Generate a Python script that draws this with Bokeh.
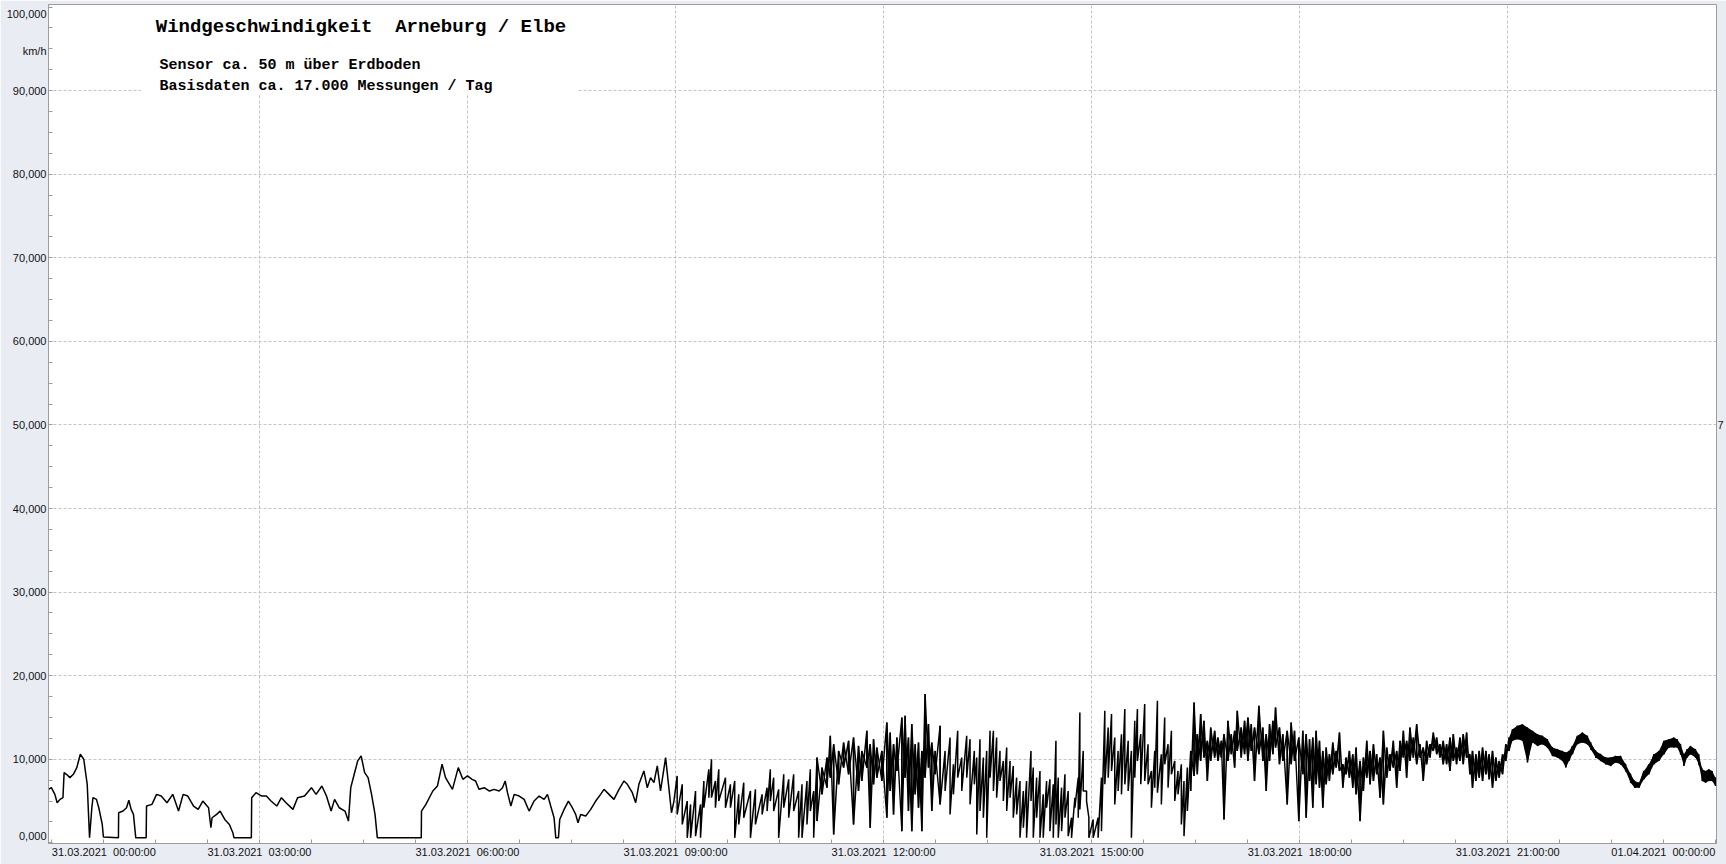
from bokeh.plotting import figure
from bokeh.models import (Range1d, FixedTicker, LinearAxis, Label, BoxAnnotation)
from bokeh.embed import file_html
from bokeh.resources import INLINE

# ---------------- data (minutes after 31.03.2021 00:00, km/h) ----------------
calm_min = [-2.5, 0, 3, 5, 7.5, 10, 11, 13, 16, 19, 22, 25, 28, 31, 32, 33, 35, 36, 39, 41,
            44, 45, 58, 58.2, 62, 65, 67, 69, 71, 73, 82, 82.3, 87, 91, 95, 100, 105, 110, 114,
            118, 123, 127, 131, 136, 138, 139, 143, 146, 150, 154, 157, 158, 173, 173.3, 177,
            182, 186, 190, 195, 199, 203, 209, 213, 219, 225, 229, 234, 238, 242, 245, 249, 254,
            257, 259, 262, 265, 268, 271, 274, 277, 280, 282, 320, 320.2, 324, 330, 334, 338,
            341, 347, 352, 356, 360, 364, 367, 370, 374.5, 379, 383, 387.4, 390.3, 392.6, 394.6,
            397.5, 400.4, 404.7, 409, 413.3, 417.6, 422, 426.3, 429.2, 432, 434.9, 436.4, 438.7,
            439.8, 443.6, 447.3, 450.7, 453.6, 455.6, 457.9, 462.3, 466.6, 470.9, 475.2, 478.1,
            482.4, 486.7, 491.1, 495.4, 498.3, 502.6, 505.5, 508.3, 512.6, 515.5, 518.4, 521.3,
            524.2, 527, 531.4, 534.2, 536.5, 538.6]
calm_kmh = [6.4, 6.6, 5.8, 4.8, 5.2, 5.4, 8.4, 8.2, 7.8, 8.2, 9.0, 10.6, 10.0, 7.0, 3.8, 0.6, 4.2, 5.4, 5.2, 4.2,
            2.2, 0.7, 0.6, 3.6, 3.8, 4.2, 5.1, 4.0, 3.4, 0.6, 0.6, 4.4, 4.6, 5.8, 5.6, 4.8, 5.8, 3.8, 5.8,
            5.6, 4.4, 4.0, 5.0, 4.2, 1.8, 3.0, 3.4, 3.8, 2.8, 2.2, 1.2, 0.6, 0.6, 5.4, 6.0,
            5.6, 5.6, 5.0, 4.4, 5.4, 4.8, 4.0, 5.4, 5.6, 6.6, 5.8, 6.8, 5.6, 3.8, 5.2, 4.2, 3.8,
            2.6, 6.6, 8.2, 9.8, 10.4, 8.4, 7.8, 5.8, 3.4, 0.6, 0.6, 3.8, 4.6, 6.2, 6.8, 9.4,
            7.8, 6.4, 9.0, 7.6, 8.0, 7.6, 7.4, 6.4, 6.6, 6.2, 6.4, 6.2, 6.6, 7.4, 6.0,
            4.4, 5.8, 5.6, 5.2, 3.8, 5.0, 5.6, 5.2, 5.8, 4.4, 3.0, 0.6, 0.6,
            2.8, 4.0, 5.0, 4.2, 3.4, 2.4, 3.4, 3.2, 4.0, 5.0, 5.8, 6.4,
            5.8, 5.2, 6.4, 7.4, 7.0, 6.0, 4.8, 7.0, 8.6, 6.6, 7.8, 7.2,
            9.2, 6.2, 10.2, 6.6, 3.6, 5.0]

gust_min = [541.4, 545.8, 550.1, 553.0, 557.3, 561.6, 564.5, 568.8, 571.1, 574.5, 577.4, 583.2, 587.5,
            591.2, 594.7, 599.0, 604.8, 609.1, 614.9, 619.2, 622.0, 624.9, 629.2, 633.6, 637.9, 642.2,
            646.5, 649.4, 653.7, 656.6, 659.5, 662.4, 666.7, 671.0, 673.9, 676.8, 681.1, 685.4, 689.7,
            694.0, 698.3, 701.2, 705.5, 708.4, 711.3, 714.2, 718.5, 722.8, 725.7, 728.6, 731.5, 735.8,
            738.6,
            741.5, 744.4, 747.3, 750.2, 753.1, 755.9, 758.8, 761.7, 764.6, 768.9, 773.2, 777.5, 780.4,
            784.1, 787.6, 791.9, 794.8, 798.5, 800.6, 803.4, 806.3, 809.2, 812.1, 815.0, 817.8, 820.7,
            823.6, 826.5, 829.4, 832.2, 835.1, 838.0, 840.9, 843.7, 847.5, 849.5, 852.4, 855.3, 858.1,
            861.0, 863.9, 866.8, 869.1, 871.1, 874.0, 876.9, 879.7, 882.6, 885.5, 888.4, 889.8, 892.7,
            895.6, 897.6, 901.3, 905.6, 908.5, 911.4, 914.3, 917.2, 920.0, 922.9, 925.8, 928.7, 931.6,
            934.4, 937.3, 939.6, 942.5, 945.9, 948.8, 951.7, 954.6, 956.9, 960.3, 963.2, 966.1, 969.0,
            971.9, 974.7, 977.6, 979.9, 982.8, 985.7, 988.6, 991.4, 994.3, 997.2, 1000.1, 1003.0,
            1006.4, 1009.3, 1012.2, 1014.5, 1017.9, 1020.8, 1023.7, 1026.0, 1029.4, 1032.3, 1035.2,
            1038.1, 1040.9, 1044.7, 1048.1, 1051.0, 1053.9, 1056.8, 1059.1, 1062.5, 1065.4, 1069.2,
            1072.6, 1075.5, 1079.2, 1082.7, 1085.6, 1088.5, 1091.3, 1094.2, 1097.1, 1100.0, 1102.9,
            1105.7, 1108.6, 1111.5,
            1114.4, 1117.3, 1120.1, 1123.0, 1125.9, 1128.8, 1132.2, 1135.1, 1138.0, 1140.9, 1143.8,
            1146.6, 1149.5, 1152.4, 1155.3, 1158.1, 1161.0, 1163.9, 1166.8, 1169.7, 1172.5, 1175.4,
            1178.3, 1181.2, 1184.1, 1186.9, 1189.8, 1192.7, 1195.6, 1198.5, 1201.3, 1204.2, 1207.1,
            1210.0, 1212.9, 1215.7, 1218.6, 1221.5, 1224.4, 1227.2, 1229.5, 1232.4, 1235.3, 1238.2,
            1241.1, 1243.9, 1246.8, 1249.7, 1252.6, 1255.5, 1258.3, 1261.2, 1264.1, 1268.4, 1272.7,
            1277.0, 1281.4, 1285.7, 1290.0, 1294.3, 1298.6, 1303.0, 1307.3, 1310.2, 1313.0, 1315.9,
            1320.2, 1324.6, 1328.9, 1331.8, 1336.1, 1340.4, 1344.7, 1349.0, 1353.3, 1357.7, 1362.0,
            1366.3, 1369.8, 1373.5, 1377.8, 1382.1, 1386.5, 1390.8, 1395.1, 1399.4, 1403.7, 1406.6,
            1409.5, 1412.4, 1415.2, 1418.1, 1422.4, 1425.3, 1428.2, 1431.1, 1434.0, 1436.8, 1439.7]
gust_hi = [8.0, 7.0, 5.0, 4.6, 6.2, 4.6, 7.4, 8.8, 10.0, 7.4, 8.8, 7.8, 7.0,
           7.4, 5.8, 7.2, 6.2, 6.4, 5.8, 6.6, 8.8, 7.8, 6.4, 8.2, 7.6, 8.2,
           6.2, 7.0, 7.4, 8.8, 6.2, 10.2, 9.0, 10.2, 12.8, 11.8, 11.0, 12.0, 12.2,
           12.6, 11.6, 11.0, 13.4, 11.8, 12.4, 11.4, 11.0, 14.4, 13.2, 11.8, 12.6, 15.0,
           15.2,
           12.6, 14.2, 11.8, 12.0, 11.0, 17.8, 14.2, 12.0, 11.0, 14.0, 11.0, 12.6, 9.4,
           13.4, 10.2, 12.8, 12.4, 11.0, 10.2, 12.4, 10.2, 11.0, 13.4, 13.4, 12.6, 11.0,
           9.8, 11.4, 9.8, 9.2, 7.8, 7.4, 6.2, 7.4, 11.0, 9.0, 7.8, 8.6, 5.8,
           7.4, 7.6, 7.0, 12.2, 7.8, 6.6, 8.2, 6.2, 3.0, 5.4, 7.8, 15.6, 11.0,
           6.2, 3.0, 2.8, 3.0, 7.8, 15.8, 13.8, 15.4, 12.6, 11.0, 13.0, 16.0, 12.2,
           11.0, 14.6, 16.0, 13.0, 16.6, 11.8, 8.6, 11.0, 17.0, 10.6, 15.0, 11.8, 13.4,
           9.8, 8.6, 9.4, 7.4, 9.0, 11.0, 16.8, 13.0, 15.4, 14.6, 12.2, 13.8,
           13.4, 12.6, 12.2, 13.0, 14.6, 13.0, 13.4, 15.8, 13.8, 14.6, 15.0,
           14.2, 13.8, 16.4, 13.8, 13.0, 14.2, 14.6, 16.2, 13.8, 13.0, 13.4,
           14.4, 13.4, 12.6, 13.4, 13.0, 12.4, 12.6, 13.4, 12.2, 11.0, 11.4,
           10.6, 12.0, 11.0,
           13.2, 9.4, 10.2, 11.0, 10.6, 11.4, 9.8, 10.2, 12.2, 11.0, 11.8,
           10.6, 10.2, 13.4, 11.4, 10.6, 12.2, 11.0, 12.2, 13.4, 12.2, 13.8,
           12.6, 14.2, 11.8, 11.4, 12.2, 11.8, 13.2, 12.6, 11.8, 12.2, 11.8,
           12.6, 13.0, 11.4, 12.6, 13.0, 13.2, 10.6, 11.0, 10.6, 11.0, 11.4,
           11.0, 10.6, 11.0, 10.2, 9.8, 10.6, 11.8, 12.6, 13.6, 14.0, 14.2,
           13.8, 13.4, 13.0, 12.8, 12.4, 11.4, 11.2, 11.0, 10.8, 11.0, 11.6,
           12.8, 13.2, 12.8, 12.0, 11.0, 10.6, 10.2, 10.2, 10.4, 10.4, 9.4,
           8.2, 7.4, 7.2, 8.6, 9.4, 10.6, 11.0, 12.2, 12.4, 12.6, 12.4,
           11.8, 10.6, 11.2, 11.6, 11.2, 10.6, 8.8, 8.6, 8.8, 8.6, 7.8]
gust_lo = [3.4, 2.2, 0.6, 0.6, 0.8, 0.6, 4.2, 5.4, 5.4, 4.2, 5.0, 4.2, 4.2,
           0.6, 2.2, 3.0, 0.6, 2.2, 3.4, 3.8, 5.0, 3.8, 0.6, 4.2, 3.0, 3.8,
           0.6, 0.6, 2.2, 3.8, 0.6, 2.6, 5.8, 6.6, 7.8, 1.0, 7.0, 9.0, 8.2,
           2.2, 6.2, 7.4, 9.0, 1.8, 7.0, 7.8, 7.4, 3.0, 6.2, 3.4, 8.6, 1.4,
           7.8,
           3.8, 1.4, 5.8, 4.2, 1.4, 7.8, 9.0, 3.8, 8.2, 4.6, 6.2, 3.4, 5.8,
           7.8, 6.2, 7.8, 4.6, 7.0, 1.0, 3.8, 3.0, 0.6, 7.8, 6.2, 5.4, 7.4,
           5.0, 3.8, 5.4, 3.0, 3.4, 0.6, 1.8, 0.6, 5.0, 0.6, 3.0, 0.6, 0.6,
           4.2, 1.4, 0.6, 2.2, 0.6, 1.4, 3.0, 0.8, 0.6, 4.2, 3.0, 4.0, 6.2,
           5.0, 0.6, 0.6, 0.6, 1.4, 7.0, 7.8, 8.6, 4.6, 6.2, 5.8, 7.0, 6.2,
           0.6, 7.8, 9.8, 7.0, 7.4, 7.0, 4.2, 6.6, 6.0, 4.6, 9.4, 6.6, 8.2,
           5.0, 5.8, 2.2, 0.8, 3.8, 6.2, 8.0, 8.2, 9.8, 10.2, 7.4, 9.8,
           10.2, 9.8, 10.2, 2.8, 9.8, 10.6, 9.0, 11.0, 10.2, 10.6, 9.8,
           11.0, 7.4, 10.6, 9.8, 6.2, 9.8, 10.6, 11.4, 9.4, 9.8, 4.6,
           9.4, 9.8, 2.6, 8.2, 3.0, 7.4, 4.2, 7.0, 6.6, 4.2, 7.0,
           7.4, 8.2, 9.0,
           8.6, 6.6, 8.2, 7.8, 6.6, 5.8, 2.6, 6.2, 7.8, 7.0, 7.4,
           8.2, 5.4, 4.6, 7.8, 8.6, 9.0, 6.6, 8.6, 10.2, 7.8, 9.8,
           10.2, 9.4, 10.2, 7.4, 9.4, 10.2, 11.0, 10.6, 10.2, 9.4, 9.4,
           8.6, 9.8, 9.4, 9.8, 9.4, 10.2, 8.2, 6.6, 7.4, 7.8, 7.4,
           8.2, 7.6, 6.6, 7.4, 7.8, 8.2, 9.8, 11.0, 12.2, 12.4, 12.2,
           9.6, 12.0, 11.6, 11.8, 11.4, 10.4, 10.2, 9.8, 9.0, 9.8, 10.6,
           11.8, 12.0, 11.8, 11.2, 10.2, 9.8, 9.4, 9.2, 9.6, 9.4, 8.6,
           7.2, 6.6, 6.6, 7.6, 8.2, 9.4, 9.8, 10.6, 11.4, 11.4, 11.4,
           10.6, 9.2, 10.2, 10.6, 10.2, 9.4, 7.4, 7.2, 7.4, 7.4, 6.8]

# stretches where the trace is densely over-plotted (start, end in minutes)
dense_spans = [(660, 770), (985, 1262)]
late_start = 1261

grid_x = [180, 360, 540, 720, 900, 1080, 1260]
# time labels; the first one is set flush right of 00:00, the last one flush left of 24:00
x_label_pos = [45.4, 180, 360, 540, 720, 900, 1080, 1260, 1394.6]
x_tick_labels = ["31.03.2021\u00a0 00:00:00", "31.03.2021\u00a0 03:00:00", "31.03.2021\u00a0 06:00:00",
                 "31.03.2021\u00a0 09:00:00", "31.03.2021\u00a0 12:00:00", "31.03.2021\u00a0 15:00:00",
                 "31.03.2021\u00a0 18:00:00", "31.03.2021\u00a0 21:00:00", "01.04.2021\u00a0 00:00:00"]
grid_y = [10, 20, 30, 40, 50, 60, 70, 80, 90]
# value labels; the outermost two are kept inside the frame as in the original
y_label_pos = [0.76, 10, 20, 30, 40, 50, 60, 70, 80, 90, 99.2]
y_tick_labels = ["0,000", "10,000", "20,000", "30,000", "40,000", "50,000",
                 "60,000", "70,000", "80,000", "90,000", "100,000"]
unit_pos = 94.7
unit_text = "km/h"

title_text = "Windgeschwindigkeit\u00a0 Arneburg / Elbe"
sub1_text = "Sensor ca. 50 m über Erdboden"
sub2_text = "Basisdaten ca. 17.000 Messungen / Tag"

# ---------------- build traces ----------------
xs = list(calm_min)
ys = list(calm_kmh)
for t, hi, lo in zip(gust_min, gust_hi, gust_lo):
    xs += [t, t]
    ys += [hi, lo]

# the same samples joined in the opposite order, for the dense stretches
dense_x, dense_y = [], []
for a, b in dense_spans:
    for t, hi, lo in zip(gust_min, gust_hi, gust_lo):
        if a <= t <= b:
            dense_x += [t, t]
            dense_y += [lo, hi]
    dense_x.append(float("nan"))
    dense_y.append(float("nan"))

late_min = [t for t in gust_min if t >= late_start]
late_hi = [h for t, h in zip(gust_min, gust_hi) if t >= late_start]
late_lo = [l for t, l in zip(gust_min, gust_lo) if t >= late_start]

PANEL = "#e9ecf3"
FRAME = "#9c9c9c"
GRID = "#c4c4c4"
TICKFONT = "Liberation Sans"

p = figure(width=1726, height=864, output_backend="svg", toolbar_location=None,
           x_range=Range1d(-2.5, 1440.6), y_range=Range1d(-0.08, 100.3),
           min_border_left=48, min_border_right=0, min_border_top=4, min_border_bottom=21,
           background_fill_color="white", border_fill_color=PANEL,
           outline_line_color=FRAME, outline_line_width=1)

p.varea(x=late_min, y1=late_lo, y2=late_hi, fill_color="black")
p.line(dense_x, dense_y, line_color="black", line_width=1.4)
p.line(xs, ys, line_color="black", line_width=1.5)

# axes
p.xaxis.ticker = FixedTicker(ticks=x_label_pos, minor_ticks=list(range(0, 1441, 45)))
p.xaxis.major_label_overrides = {t: lab for t, lab in zip(x_label_pos, x_tick_labels)}
p.yaxis.ticker = FixedTicker(ticks=y_label_pos + [unit_pos], minor_ticks=[i * 2.5 for i in range(41)])
y_over = {t: lab for t, lab in zip(y_label_pos, y_tick_labels)}
y_over[unit_pos] = unit_text
p.yaxis.major_label_overrides = y_over
for ax in (p.xaxis[0], p.yaxis[0]):
    ax.axis_line_color = FRAME
    ax.major_tick_line_color = FRAME
    ax.minor_tick_line_color = FRAME
    ax.major_tick_in = 0
    ax.major_tick_out = 0
    ax.minor_tick_in = 4
    ax.minor_tick_out = 0
    ax.major_label_standoff = 2
    ax.axis_label_standoff = 0
    ax.major_label_text_font = TICKFONT
    ax.major_label_text_font_size = "11px"
    ax.major_label_text_color = "#111111"

right = LinearAxis(ticker=FixedTicker(ticks=[50]), major_label_overrides={50: "7"},
                   axis_line_color=None, major_tick_line_color=None, minor_tick_line_color=None,
                   major_tick_in=0, major_tick_out=0, major_label_standoff=1, axis_label_standoff=0,
                   major_label_text_font=TICKFONT, major_label_text_font_size="11px",
                   major_label_text_color="#111111")
p.add_layout(right, "right")

# grid
p.xgrid.ticker = FixedTicker(ticks=grid_x)
p.ygrid.ticker = FixedTicker(ticks=grid_y)
for g in (p.xgrid[0], p.ygrid[0]):
    g.grid_line_color = GRID
    g.grid_line_dash = "3 2"
    g.grid_line_width = 1

# white box behind header text
p.add_layout(BoxAnnotation(left=77.4, right=454.8, bottom=89.6, top=100.25,
                           fill_color="white", fill_alpha=1.0, line_color=None))

mono = "Liberation Mono"
p.add_layout(Label(x=90.3, y=97.6, text=title_text, text_font=mono, text_font_style="bold",
                   text_font_size="19px", text_color="black", text_baseline="middle", text_align="left"))
p.add_layout(Label(x=93.5, y=93.0, text=sub1_text, text_font=mono, text_font_style="bold",
                   text_font_size="15px", text_color="black", text_baseline="middle", text_align="left"))
p.add_layout(Label(x=93.5, y=90.5, text=sub2_text, text_font=mono, text_font_style="bold",
                   text_font_size="15px", text_color="black", text_baseline="middle", text_align="left"))

open("out.html", "w").write(file_html(p, INLINE))
